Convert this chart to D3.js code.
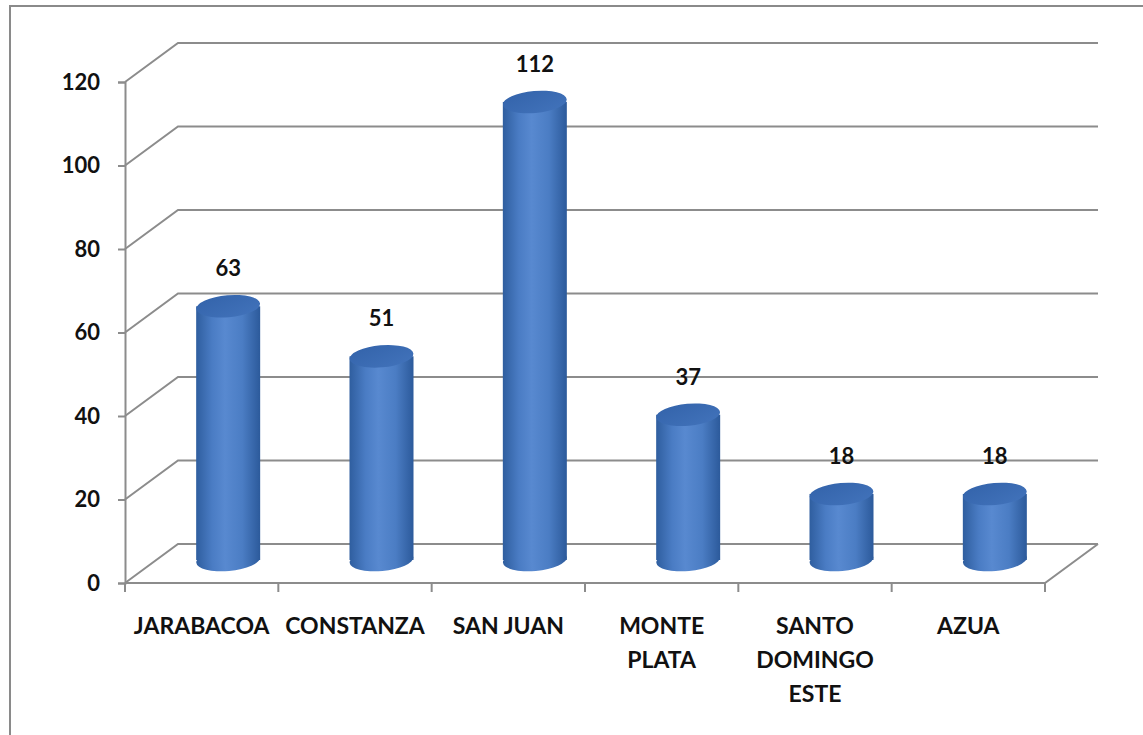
<!DOCTYPE html>
<html>
<head>
<meta charset="utf-8">
<script src="https://cdn.jsdelivr.net/npm/d3@7"></script>
<style>
  body { margin: 0; background: #fff; }
  svg { display: block; }
</style>
</head>
<body>
<div class="chart"></div>
<script>
// data
const categories = ["JARABACOA", "CONSTANZA", "SAN JUAN", "MONTE PLATA", "SANTO DOMINGO ESTE", "AZUA"];
const labelLines = [["JARABACOA"], ["CONSTANZA"], ["SAN JUAN"], ["MONTE", "PLATA"], ["SANTO", "DOMINGO", "ESTE"], ["AZUA"]];
const values = [63, 51, 112, 37, 18, 18];
const yTicks = [0, 20, 40, 60, 80, 100, 120];

function drawChart() {
  const width = 1143;
  const height = 735;
  const depth = {dx: 53, dy: -39};
  const gridColor = "#8c8c8c";
  const font = "Lato, 'Open Sans', sans-serif";

  const svg = d3.select(".chart").append("svg")
    .attr("width", width)
    .attr("height", height);

  // outer frame (only left and top edges show)
  svg.append("path")
    .attr("d", "M10,735 L10,6 L1143,6")
    .attr("fill", "none")
    .attr("stroke", "#8a8a8a")
    .attr("stroke-width", 2);

  const xScale = d3.scaleBand()
    .domain(categories)
    .range([125, 1045])
    .padding(0);

  const yScale = d3.scaleLinear()
    .domain([0, 120])
    .range([583, 82]);

  // bars sit in the middle of the depth, slightly different projection
  const barScale = d3.scaleLinear()
    .domain([0, 120])
    .range([569, 569 - 120 * 4.17]);

  const defs = svg.append("defs");
  const side = defs.append("linearGradient")
    .attr("id", "side")
    .attr("x1", "0").attr("x2", "1").attr("y1", "0").attr("y2", "0");
  side.append("stop").attr("offset", "0%").attr("stop-color", "#2f5e9f");
  side.append("stop").attr("offset", "25%").attr("stop-color", "#4a7cc4");
  side.append("stop").attr("offset", "45%").attr("stop-color", "#5889d0");
  side.append("stop").attr("offset", "72%").attr("stop-color", "#4b7dc4");
  side.append("stop").attr("offset", "100%").attr("stop-color", "#2c5a9b");

  const top = defs.append("linearGradient")
    .attr("id", "top")
    .attr("x1", "0").attr("x2", "1").attr("y1", "0").attr("y2", "1");
  top.append("stop").attr("offset", "0%").attr("stop-color", "#3363aa");
  top.append("stop").attr("offset", "100%").attr("stop-color", "#4273bb");

  // back wall gridlines with their side diagonals
  const grid = svg.append("g")
    .attr("stroke", gridColor)
    .attr("stroke-width", 2)
    .attr("fill", "none");

  grid.selectAll("path")
    .data(yTicks)
    .enter()
    .append("path")
      .attr("d", d => {
        const y = yScale(d);
        return `M125,${y} L${125 + depth.dx},${y + depth.dy} L${1045 + depth.dx},${y + depth.dy}`;
      });

  // floor: front edge and right diagonal
  grid.append("path")
    .attr("d", `M125,${yScale(0)} L1045,${yScale(0)} L${1045 + depth.dx},${yScale(0) + depth.dy}`);

  // front value axis
  const yAxis = d3.axisLeft(yScale)
    .tickValues(yTicks)
    .tickSize(7)
    .tickPadding(18);

  const yAxisG = svg.append("g")
    .attr("transform", "translate(125, 0)")
    .call(yAxis);
  yAxisG.select(".domain").attr("stroke", gridColor).attr("stroke-width", 2);
  yAxisG.selectAll(".tick line").attr("stroke", gridColor).attr("stroke-width", 2);
  yAxisG.selectAll(".tick text")
    .attr("font-family", font)
    .attr("font-weight", "bold")
    .attr("font-size", "22px")
    .attr("fill", "#111");

  // category boundary ticks
  const bounds = categories.map(c => xScale(c)).concat([xScale.range()[1]]);
  svg.append("g")
    .selectAll("line")
    .data(bounds)
    .enter()
    .append("line")
      .attr("x1", d => d)
      .attr("x2", d => d)
      .attr("y1", yScale(0))
      .attr("y2", yScale(0) + 9)
      .attr("stroke", gridColor)
      .attr("stroke-width", 2);

  // cylinders
  const rx = 32, ry = 11, tilt = -5;
  const baseY = 560;
  const bars = svg.append("g")
    .selectAll("g")
    .data(values)
    .enter()
    .append("g");

  const cx = (d, i) => xScale(categories[i]) + xScale.bandwidth() / 2 + depth.dx / 2;

  bars.append("ellipse")
    .attr("cx", cx)
    .attr("cy", baseY)
    .attr("rx", rx)
    .attr("ry", ry)
    .attr("transform", (d, i) => `rotate(${tilt}, ${cx(d, i)}, ${baseY})`)
    .attr("fill", "url(#side)");

  bars.append("rect")
    .attr("x", (d, i) => cx(d, i) - rx)
    .attr("y", d => barScale(d))
    .attr("width", rx * 2)
    .attr("height", d => baseY - barScale(d))
    .attr("fill", "url(#side)");

  bars.append("ellipse")
    .attr("cx", cx)
    .attr("cy", d => barScale(d))
    .attr("rx", rx)
    .attr("ry", ry)
    .attr("transform", (d, i) => `rotate(${tilt}, ${cx(d, i)}, ${barScale(d)})`)
    .attr("fill", "url(#top)");

  // value labels
  bars.append("text")
    .attr("x", cx)
    .attr("y", d => barScale(d) - 30)
    .attr("text-anchor", "middle")
    .attr("font-family", font)
    .attr("font-weight", "bold")
    .attr("font-size", "22px")
    .attr("fill", "#111")
    .text(d => d);

  // category labels
  const catLabels = svg.append("g")
    .selectAll("text")
    .data(categories)
    .enter()
    .append("text")
      .attr("text-anchor", "middle")
      .attr("font-family", font)
      .attr("font-weight", "bold")
      .attr("font-size", "23px")
      .attr("fill", "#111");

  catLabels.each(function(d, i) {
    const t = d3.select(this);
    labelLines[i].forEach((line, j) => {
      t.append("tspan")
        .attr("x", xScale(d) + xScale.bandwidth() / 2)
        .attr("y", 634 + j * 34)
        .text(line);
    });
  });
}

drawChart();
</script>
</body>
</html>
